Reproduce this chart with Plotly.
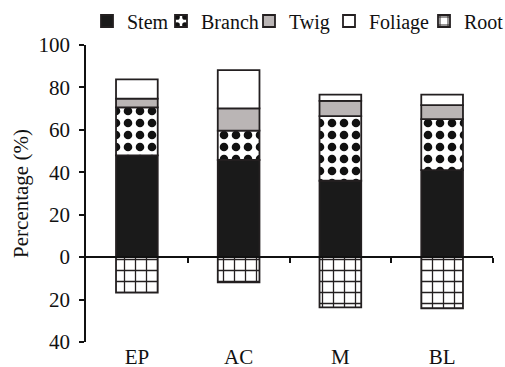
import plotly.graph_objects as go

categories = ["EP", "AC", "M", "BL"]
stem = [48.0, 45.8, 36.0, 41.0]
branch = [22.6, 13.8, 30.5, 24.1]
twig = [4.1, 10.5, 7.2, 6.6]
foliage = [9.1, 18.1, 2.9, 4.9]
root = [16.7, 11.9, 23.7, 24.1]

ytick_vals = [-40, -20, 0, 20, 40, 60, 80, 100]
ytick_text = ["40", "20", "0", "20", "40", "60", "80", "100"]

FONT = "Liberation Serif"
OUT = "#231f20"
W = 0.41
LW = 1.8
WIDTH, HEIGHT = 505, 367

# legend entry left edges (px in the 505-wide page)
leg_left = {"Stem": 87, "Branch": 161, "Twig": 249, "Foliage": 329, "Root": 424}
leg_ids = {"Stem": "legend", "Branch": "legend2", "Twig": "legend3",
           "Foliage": "legend4", "Root": "legend5"}

fig = go.Figure()
fig.add_trace(go.Bar(name="Stem", x=categories, y=stem, width=W, legend=leg_ids["Stem"],
                     marker=dict(color="#1a1a1a", line=dict(color=OUT, width=LW))))
fig.add_trace(go.Bar(name="Branch", x=categories, y=branch, width=W, legend=leg_ids["Branch"],
                     marker=dict(color="white", line=dict(color=OUT, width=LW),
                                 pattern=dict(shape=".", fgcolor="#111111", bgcolor="white",
                                              fgopacity=1, size=12, solidity=0.4,
                                              fillmode="overlay"))))
fig.add_trace(go.Bar(name="Twig", x=categories, y=twig, width=W, legend=leg_ids["Twig"],
                     marker=dict(color="#bab5b5", line=dict(color=OUT, width=LW))))
fig.add_trace(go.Bar(name="Foliage", x=categories, y=foliage, width=W, legend=leg_ids["Foliage"],
                     marker=dict(color="white", line=dict(color=OUT, width=LW))))
fig.add_trace(go.Bar(name="Root", x=categories, y=[-v for v in root], width=W, legend=leg_ids["Root"],
                     marker=dict(color="white", line=dict(color=OUT, width=LW),
                                 pattern=dict(shape="+", fgcolor=OUT, bgcolor="white",
                                              fgopacity=1, size=11, solidity=0.22,
                                              fillmode="overlay"))))
# helper trace for the zero-line axis carrying the category-boundary ticks
fig.add_trace(go.Scatter(x=[0], y=[0], xaxis="x2", mode="markers",
                         marker=dict(opacity=0), showlegend=False, hoverinfo="skip"))

layout_legends = {}
for name, lid in leg_ids.items():
    layout_legends[lid] = dict(
        orientation="h", xref="container", yref="container",
        x=leg_left[name] / WIDTH, y=1 - 21 / HEIGHT,
        xanchor="left", yanchor="middle", itemwidth=30,
        font=dict(family=FONT, size=20, color="#111111"),
        bgcolor="rgba(0,0,0,0)", borderwidth=0,
    )

fig.update_layout(
    width=WIDTH, height=HEIGHT,
    template="none",
    margin=dict(l=86, r=12, t=45, b=25),
    paper_bgcolor="white", plot_bgcolor="white",
    barmode="relative",
    font=dict(family=FONT, size=21, color="#111111"),
    showlegend=True,
    **layout_legends,
    xaxis=dict(range=[-0.5, 3.5], showline=False, ticks="", showgrid=False,
               zeroline=False, automargin=False,
               tickfont=dict(family=FONT, size=21), ticklabelstandoff=0),
    xaxis2=dict(overlaying="x", anchor="free", position=40/140, range=[-0.5, 3.5],
                showline=True, linecolor="#111111", linewidth=1.5,
                tickvals=[0.5, 1.5, 2.5, 3.5], ticks="outside", ticklen=5,
                tickwidth=1.5, tickcolor="#111111", automargin=False,
                showticklabels=False, showgrid=False, zeroline=False),
    yaxis=dict(range=[-40, 100], tickvals=ytick_vals, ticktext=ytick_text,
               showline=True, linecolor="#111111", linewidth=1.5,
               ticks="outside", ticklen=5, tickwidth=1.5, tickcolor="#111111",
               showgrid=False, zeroline=False, automargin=False,
               tickfont=dict(family=FONT, size=21), ticklabelstandoff=5,
               title=dict(text="Percentage (%)", font=dict(family=FONT, size=21),
                          standoff=4)),
)

fig.write_html("out.html")
